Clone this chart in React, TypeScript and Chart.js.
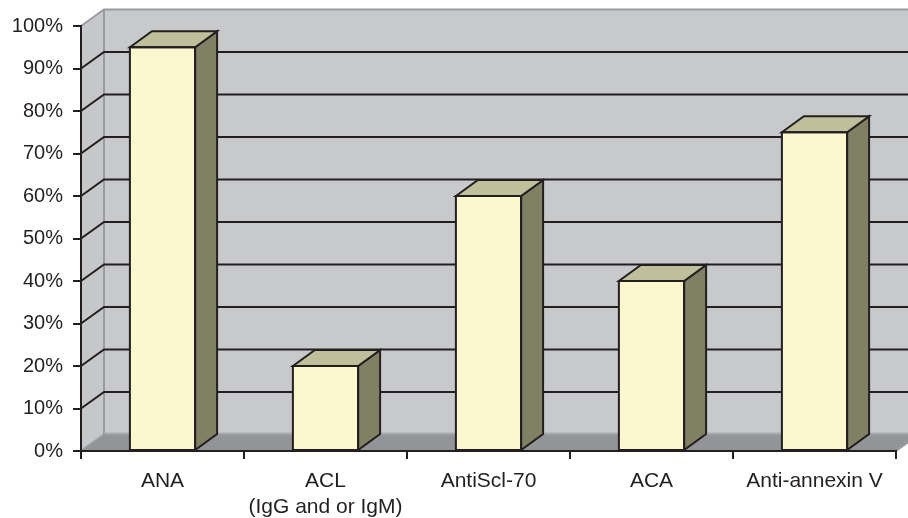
import React, { useEffect, useRef } from "react";
import { Chart, registerables } from "chart.js";

Chart.register(...registerables);

const categories: (string | string[])[] = [
  "ANA",
  ["ACL", "(IgG and or IgM)"],
  "AntiScl-70",
  "ACA",
  "Anti-annexin V",
];
const values: number[] = [95, 20, 60, 40, 75];
const yTicks: number[] = [0, 10, 20, 30, 40, 50, 60, 70, 80, 90, 100];

const INK = "#231f20";
const FONT = '"Liberation Sans", Arial, sans-serif';

const WALL_DX = 23;
const WALL_DY = 16.5;
const BAR_DX = 22;
const BAR_DY = 16;

const wallsPlugin = {
  id: "walls3d",
  beforeDraw(chart: any) {
    const { ctx, chartArea } = chart;
    const y = chart.scales.y;
    const L = chartArea.left;
    const R = chartArea.right;
    const T = y.getPixelForValue(100);
    const B = y.getPixelForValue(0);
    const W = chart.width;
    ctx.save();
    // back wall
    ctx.fillStyle = "#c8c9cb";
    ctx.fillRect(L + WALL_DX, T - WALL_DY, R - L + 40, B - T);
    // side wall
    ctx.fillStyle = "#c6c7c9";
    ctx.beginPath();
    ctx.moveTo(L, T);
    ctx.lineTo(L + WALL_DX, T - WALL_DY);
    ctx.lineTo(L + WALL_DX, B - WALL_DY);
    ctx.lineTo(L, B);
    ctx.closePath();
    ctx.fill();
    // floor
    ctx.fillStyle = "#939498";
    ctx.beginPath();
    ctx.moveTo(L, B);
    ctx.lineTo(L + WALL_DX, B - WALL_DY);
    ctx.lineTo(R + WALL_DX, B - WALL_DY);
    ctx.lineTo(R, B);
    ctx.closePath();
    ctx.fill();
    // wall edges (gray)
    ctx.strokeStyle = "#9a9b9e";
    ctx.lineWidth = 2;
    ctx.beginPath();
    ctx.moveTo(L, T);
    ctx.lineTo(L + WALL_DX, T - WALL_DY);
    ctx.lineTo(W + 5, T - WALL_DY);
    ctx.moveTo(L + WALL_DX, T - WALL_DY);
    ctx.lineTo(L + WALL_DX, B - WALL_DY);
    ctx.moveTo(L, B);
    ctx.lineTo(L + WALL_DX, B - WALL_DY);
    ctx.lineTo(W + 5, B - WALL_DY);
    ctx.moveTo(R, B);
    ctx.lineTo(R + WALL_DX, B - WALL_DY);
    ctx.stroke();
    // lighter band on back wall bottom
    ctx.strokeStyle = "#a9aaad";
    ctx.lineWidth = 1;
    ctx.beginPath();
    ctx.moveTo(L + WALL_DX, B - WALL_DY - 1.5);
    ctx.lineTo(W + 5, B - WALL_DY - 1.5);
    ctx.stroke();
    // gridlines
    ctx.strokeStyle = INK;
    ctx.lineWidth = 2;
    ctx.beginPath();
    for (const v of yTicks) {
      if (v === 0 || v === 100) continue;
      const py = y.getPixelForValue(v);
      ctx.moveTo(L, py);
      ctx.lineTo(L + WALL_DX, py - WALL_DY);
      ctx.lineTo(W + 5, py - WALL_DY);
    }
    ctx.stroke();
    ctx.restore();
  },
};

const barsPlugin = {
  id: "bars3d",
  afterDatasetsDraw(chart: any) {
    const { ctx } = chart;
    const meta = chart.getDatasetMeta(0);
    ctx.save();
    ctx.lineWidth = 2;
    ctx.strokeStyle = INK;
    ctx.lineJoin = "miter";
    for (const el of meta.data) {
      const { x, y, base, width } = el.getProps(["x", "y", "base", "width"], true);
      const xl = x - width / 2;
      const xr = x + width / 2;
      // side face
      ctx.fillStyle = "#808064";
      ctx.beginPath();
      ctx.moveTo(xr, y);
      ctx.lineTo(xr + BAR_DX, y - BAR_DY);
      ctx.lineTo(xr + BAR_DX, base - BAR_DY);
      ctx.lineTo(xr, base);
      ctx.closePath();
      ctx.fill();
      ctx.stroke();
      // top face
      ctx.fillStyle = "#bfc09b";
      ctx.beginPath();
      ctx.moveTo(xl, y);
      ctx.lineTo(xl + BAR_DX, y - BAR_DY);
      ctx.lineTo(xr + BAR_DX, y - BAR_DY);
      ctx.lineTo(xr, y);
      ctx.closePath();
      ctx.fill();
      ctx.stroke();
      // front outline
      ctx.strokeRect(xl, y, width, base - y);
    }
    ctx.restore();
  },
};

export default function App() {
  const ref = useRef<HTMLCanvasElement>(null);
  useEffect(() => {
    if (!ref.current) return;
    const chart = new Chart(ref.current, {
      type: "bar",
      data: {
        labels: categories,
        datasets: [
          {
            data: values,
            backgroundColor: "#fbf8d0",
            borderColor: INK,
            borderWidth: 0,
            categoryPercentage: 1,
            barPercentage: 0.4,
          },
        ],
      },
      options: {
        responsive: false,
        animation: false,
        devicePixelRatio: 1,
        layout: { padding: { top: 26, right: 12, left: 0, bottom: 0 } },
        plugins: { legend: { display: false }, tooltip: { enabled: false } },
        scales: {
          x: {
            afterFit: (s: any) => {
              s.height = 67;
            },
            grid: {
              drawOnChartArea: false,
              drawTicks: true,
              tickLength: 8,
              color: INK,
              lineWidth: 2,
              offset: true,
            },
            border: { color: INK, width: 2 },
            ticks: {
              color: INK,
              padding: 10,
              maxRotation: 0,
              autoSkip: false,
              font: { family: FONT, size: 21 },
            },
          },
          y: {
            min: 0,
            max: 100,
            afterFit: (s: any) => {
              s.width = 81;
            },
            afterBuildTicks: (s: any) => {
              s.ticks = yTicks.map((v) => ({ value: v }));
            },
            grid: {
              drawOnChartArea: false,
              drawTicks: true,
              tickLength: 8,
              color: INK,
              lineWidth: 2,
            },
            border: { color: INK, width: 2 },
            ticks: {
              color: INK,
              padding: 10,
              font: { family: FONT, size: 20 },
              callback: (v: any) => v + "%",
            },
          },
        },
      },
      plugins: [wallsPlugin, barsPlugin],
    });
    return () => chart.destroy();
  }, []);
  return (
    <div style={{ position: "absolute", left: 0, top: 0, width: 908, height: 518, background: "#fff" }}>
      <canvas ref={ref} width={908} height={518} style={{ display: "block" }} />
    </div>
  );
}
